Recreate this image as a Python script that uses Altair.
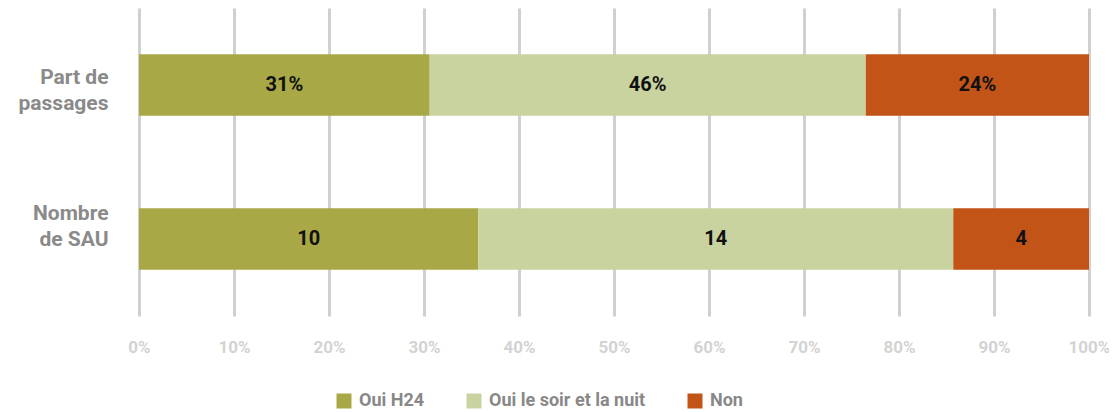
import altair as alt
import pandas as pd

categories = ["Part de passages", "Nombre de SAU"]
series = ["Oui H24", "Oui le soir et la nuit", "Non"]
colors = ["#A9A846", "#C8D3A0", "#C25418"]
part_values = [30.6, 45.9, 23.5]
part_labels = ["31%", "46%", "24%"]
sau_values = [10, 14, 4]
sau_labels = ["10", "14", "4"]
x_ticks = [0, 0.1, 0.2, 0.3, 0.4, 0.5, 0.6, 0.7, 0.8, 0.9, 1.0]

rows = []
for i, s in enumerate(series):
    rows.append({"cat": categories[0], "series": s, "order": i, "value": part_values[i], "label": part_labels[i]})
    rows.append({"cat": categories[1], "series": s, "order": i, "value": sau_values[i], "label": sau_labels[i]})
df = pd.DataFrame(rows)

FONT = "Roboto"

base = alt.Chart(df).transform_joinaggregate(
    total="sum(value)", groupby=["cat"]
).transform_calculate(
    frac="datum.value / datum.total"
).transform_window(
    cum="sum(frac)", sort=[alt.SortField("order")], groupby=["cat"], frame=[None, 0]
).transform_calculate(
    start="datum.cum - datum.frac", mid="datum.cum - datum.frac / 2"
)

y_enc = alt.Y(
    "cat:N", sort=categories, title=None,
    scale=alt.Scale(paddingInner=0.6, paddingOuter=0.3),
    axis=alt.Axis(
        domain=False, ticks=False, grid=False,
        labelExpr="datum.label == 'Part de passages' ? ['Part de', 'passages'] : ['Nombre', 'de SAU']",
        labelFont=FONT, labelFontSize=21, labelFontWeight="bold", labelColor="#8a8a8a",
        labelPadding=31, labelLineHeight=26, labelAlign="right", labelBaseline="middle",
        labelOffset={"condition": {"test": "datum.value == 'Nombre de SAU'", "value": -25}, "value": -7},
    ),
)

bars = base.mark_bar().encode(
    x=alt.X(
        "start:Q", title=None,
        scale=alt.Scale(domain=[0, 1], nice=False),
        axis=alt.Axis(
            values=x_ticks, format=".0%", domain=False, ticks=False,
            grid=True, gridColor="#d0d0d0", gridWidth=3,
            labelFont=FONT, labelFontSize=17, labelFontWeight="bold", labelColor="#d3d3d3",
            labelPadding=23, labelFlush=False,
        ),
    ),
    x2="cum:Q",
    y=y_enc,
    color=alt.Color(
        "series:N", sort=series, title=None,
        scale=alt.Scale(domain=series, range=colors),
        legend=alt.Legend(
            orient="none", direction="horizontal", legendX=196, legendY=384,
            symbolType="square", symbolSize=225, symbolStrokeWidth=0,
            labelFont=FONT, labelFontSize=18, labelFontWeight="bold", labelColor="#888888",
            columnPadding=40, padding=0, symbolOffset=0, labelOffset=6,
        ),
    ),
    order=alt.Order("order:Q"),
)

text = base.mark_text(font=FONT, fontSize=20, fontWeight="bold", color="#111111").encode(
    x=alt.X("mid:Q"),
    y=alt.Y("cat:N", sort=categories),
    text="label:N",
)

chart = alt.layer(bars, text).properties(
    width=950, height=308,
    autosize=alt.AutoSizeParams(type="none"),
    padding={"left": 131, "top": 0, "right": 20, "bottom": 96},
).configure_view(stroke=None)

chart.save("out.html", embed_options={"renderer": "svg", "actions": False})
